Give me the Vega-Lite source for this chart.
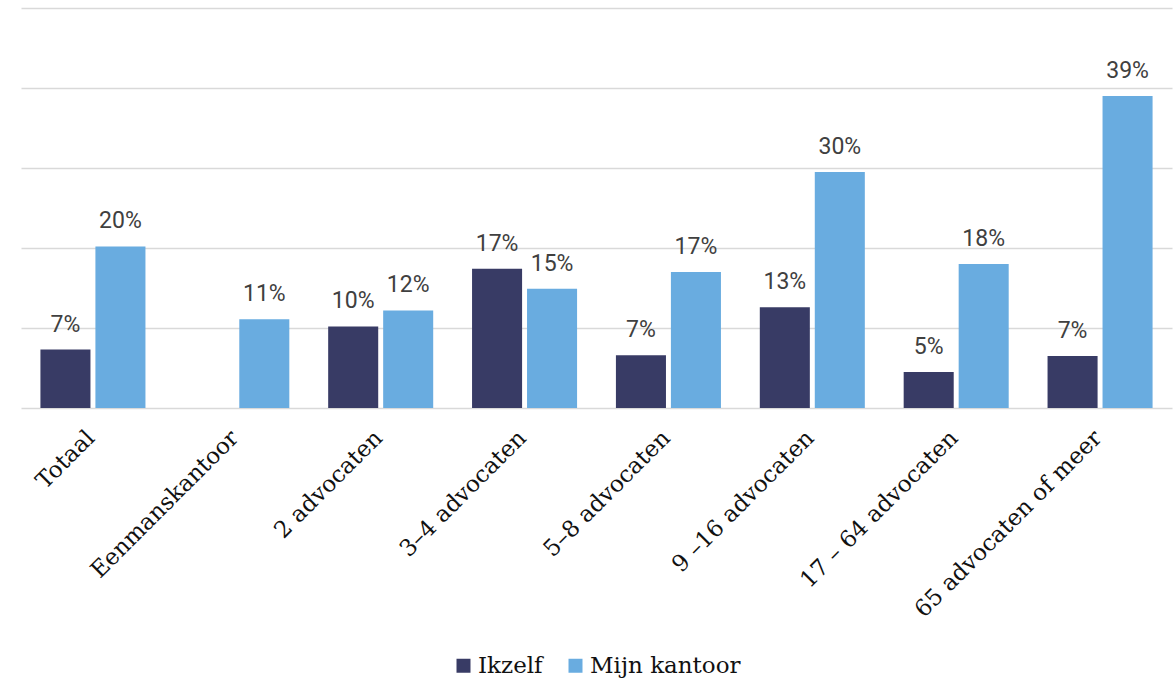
{
  "$schema": "https://vega.github.io/schema/vega-lite/v6.json",
  "width": 1151,
  "height": 400,
  "autosize": {"type": "none"},
  "padding": {"left": 21, "top": 8, "right": 4, "bottom": 270},
  "config": {"view": {"stroke": null}, "font": "DejaVu Serif"},
  "data": {
    "values": [
      {"cat": "Totaal", "series": "Ikzelf", "value": 7.3, "label": "7%"},
      {"cat": "Totaal", "series": "Mijn kantoor", "value": 20.2, "label": "20%"},
      {"cat": "Eenmanskantoor", "series": "Mijn kantoor", "value": 11.1, "label": "11%"},
      {"cat": "2 advocaten", "series": "Ikzelf", "value": 10.2, "label": "10%"},
      {"cat": "2 advocaten", "series": "Mijn kantoor", "value": 12.2, "label": "12%"},
      {"cat": "3–4 advocaten", "series": "Ikzelf", "value": 17.4, "label": "17%"},
      {"cat": "3–4 advocaten", "series": "Mijn kantoor", "value": 14.9, "label": "15%"},
      {"cat": "5–8 advocaten", "series": "Ikzelf", "value": 6.6, "label": "7%"},
      {"cat": "5–8 advocaten", "series": "Mijn kantoor", "value": 17.0, "label": "17%"},
      {"cat": "9 –16 advocaten", "series": "Ikzelf", "value": 12.6, "label": "13%"},
      {"cat": "9 –16 advocaten", "series": "Mijn kantoor", "value": 29.5, "label": "30%"},
      {"cat": "17 – 64 advocaten", "series": "Ikzelf", "value": 4.5, "label": "5%"},
      {"cat": "17 – 64 advocaten", "series": "Mijn kantoor", "value": 18.0, "label": "18%"},
      {"cat": "65 advocaten of meer", "series": "Ikzelf", "value": 6.5, "label": "7%"},
      {"cat": "65 advocaten of meer", "series": "Mijn kantoor", "value": 39.0, "label": "39%"}
    ]
  },
  "encoding": {
    "x": {
      "field": "cat",
      "type": "nominal",
      "sort": ["Totaal", "Eenmanskantoor", "2 advocaten", "3–4 advocaten", "5–8 advocaten", "9 –16 advocaten", "17 – 64 advocaten", "65 advocaten of meer"],
      "scale": {"paddingInner": 0.27, "paddingOuter": 0.135},
      "axis": {
        "title": null,
        "labelAngle": -45,
        "labelAlign": "right",
        "labelBaseline": "middle",
        "labelFont": "DejaVu Serif",
        "labelFontSize": 23,
        "labelColor": "#111111",
        "ticks": false,
        "domain": false,
        "labelPadding": 26,
        "labelOffset": -2,
        "labelLimit": 400
      }
    },
    "xOffset": {
      "field": "series",
      "type": "nominal",
      "sort": ["Ikzelf", "Mijn kantoor"],
      "scale": {"paddingInner": 0.09}
    },
    "y": {
      "field": "value",
      "type": "quantitative",
      "scale": {"domain": [0, 50]},
      "axis": {
        "title": null,
        "labels": false,
        "ticks": false,
        "domain": false,
        "values": [0, 10, 20, 30, 40, 50],
        "gridColor": "#d9d9d9",
        "gridWidth": 1.5
      }
    }
  },
  "layer": [
    {
      "mark": {"type": "bar"},
      "encoding": {
        "color": {
          "field": "series",
          "type": "nominal",
          "scale": {"domain": ["Ikzelf", "Mijn kantoor"], "range": ["#383b65", "#69ace0"]},
          "legend": {
            "title": null,
            "orient": "none",
            "direction": "horizontal",
            "legendX": 431,
            "legendY": 646,
            "symbolType": "square",
            "symbolSize": 196,
            "symbolStrokeWidth": 0,
            "labelFont": "DejaVu Serif",
            "labelFontSize": 23,
            "labelColor": "#111111",
            "columnPadding": 21,
            "labelOffset": 3
          }
        }
      }
    },
    {
      "mark": {"type": "text", "baseline": "bottom", "dy": -13, "font": "Roboto", "fontSize": 23, "color": "#404040"},
      "encoding": {"text": {"field": "label"}}
    }
  ]
}
